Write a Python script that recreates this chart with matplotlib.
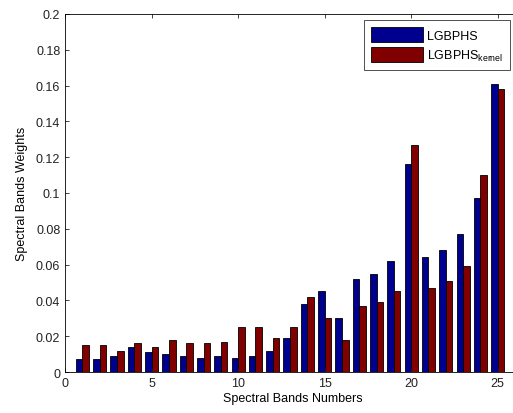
import numpy as np
import matplotlib
matplotlib.use("Agg")
import matplotlib.pyplot as plt

plt.rcParams['font.family'] = ['Liberation Sans', 'DejaVu Sans']

# band weights
bands = np.arange(1, 26)
lgbphs = [0.007, 0.007, 0.009, 0.014, 0.011, 0.010, 0.009, 0.008, 0.009, 0.008,
          0.009, 0.012, 0.019, 0.038, 0.045, 0.030, 0.052, 0.055, 0.062, 0.116,
          0.064, 0.068, 0.077, 0.097, 0.161]
lgbphs_kernel = [0.015, 0.015, 0.012, 0.016, 0.014, 0.018, 0.016, 0.016, 0.017, 0.025,
                 0.025, 0.019, 0.025, 0.042, 0.030, 0.018, 0.037, 0.039, 0.045, 0.127,
                 0.047, 0.051, 0.059, 0.110, 0.158]

fig = plt.figure(figsize=(5.13, 4.14), dpi=100)
# the reference is cropped on the right, so the axes run past the figure edge
ax = fig.add_axes([0.127, 0.099, 0.887, 0.865])

w = 0.38
ax.bar(bands - w / 2, lgbphs, w, color='#00008F', edgecolor='black', linewidth=0.6, label='LGBPHS')
ax.bar(bands + w / 2, lgbphs_kernel, w, color='#800000', edgecolor='black', linewidth=0.6,
       label='LGBPHS$_{\\mathregular{kernel}}$')

ax.set_xlim(0, 26.3)
ax.set_ylim(0, 0.2)
ax.set_xticks([0, 5, 10, 15, 20, 25])
ax.set_yticks(np.arange(0, 0.201, 0.02))
ax.set_yticklabels(['0', '0.02', '0.04', '0.06', '0.08', '0.1', '0.12', '0.14', '0.16', '0.18', '0.2'])
ax.tick_params(direction='in', top=True, right=True, labelsize=9, length=3, width=0.6, colors='#222222')
for s in ax.spines.values():
    s.set_linewidth(0.6)

ax.set_xlabel('Spectral Bands Numbers', fontsize=9, labelpad=2)
ax.set_ylabel('Spectral Bands Weights', fontsize=9, labelpad=6)

leg = ax.legend(loc='upper right', bbox_to_anchor=(0.978, 0.982), fontsize=9, fancybox=False,
                edgecolor='black', handlelength=4.2, handleheight=1.4, borderpad=0.55, labelspacing=0.45,
                handletextpad=0.3, borderaxespad=0.0)
leg.get_frame().set_linewidth(0.6)

fig.savefig('out.png', dpi=100)
